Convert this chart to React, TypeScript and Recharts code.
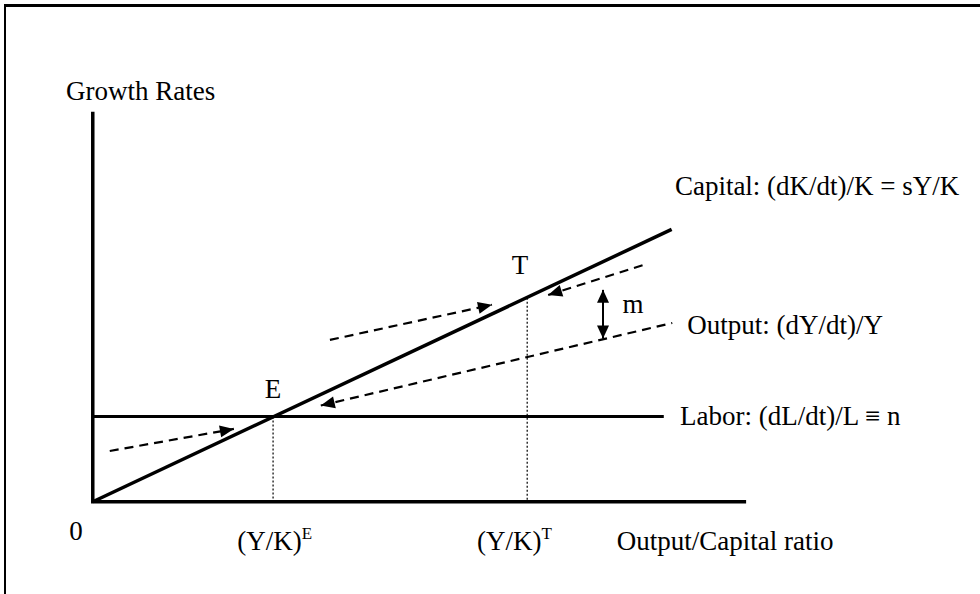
import React from 'react';
import { ComposedChart, Line, XAxis, YAxis, Scatter } from 'recharts';

const W = 980;
const H = 594;
const X_DOMAIN: [number, number] = [-1.42, 13.58];
const Y_DOMAIN: [number, number] = [-1.42, 7.72];
const SX = W / (X_DOMAIN[1] - X_DOMAIN[0]);
const SY = H / (Y_DOMAIN[1] - Y_DOMAIN[0]);

// axes (growth rate vs output/capital ratio)
const axesPath = [
  { x: 0, y: 6 },
  { x: 0, y: 0 },
  { x: 10, y: 0 },
];
const capital = [
  { x: 0, y: 0 },
  { x: 8.86, y: 4.19 },
];
const labor = [
  { x: 0, y: 1.31 },
  { x: 8.74, y: 1.31 },
];
const dropE = [
  { x: 2.76, y: 1.31 },
  { x: 2.76, y: 0 },
];
const dropT = [
  { x: 6.65, y: 3.14 },
  { x: 6.65, y: 0 },
];
const outputPath = [
  { x: 3.49, y: 1.48 },
  { x: 8.87, y: 2.75 },
];
const upperRight = [
  { x: 6.97, y: 3.18 },
  { x: 8.45, y: 3.65 },
];
const upperLeft = [
  { x: 3.63, y: 2.49 },
  { x: 6.11, y: 3.03 },
];
const lowerLeft = [
  { x: 0.26, y: 0.78 },
  { x: 2.16, y: 1.12 },
];
const gapM = [
  { x: 7.81, y: 2.51 },
  { x: 7.81, y: 3.26 },
];

type Lbl = { x: number; y: number; text: string; sup?: string; anchor?: string; size?: number };
const labels: Lbl[] = [
  { x: -0.41, y: 6.18, text: 'Growth Rates' },
  { x: 8.91, y: 4.72, text: 'Capital: (dK/dt)/K = sY/K' },
  { x: 9.1, y: 2.58, text: 'Output: (dY/dt)/Y' },
  { x: 8.99, y: 1.18, text: 'Labor: (dL/dt)/L ≡ n' },
  { x: -0.36, y: -0.59, text: '0' },
  { x: 2.21, y: -0.74, text: '(Y/K)', sup: 'E' },
  { x: 5.88, y: -0.74, text: '(Y/K)', sup: 'T' },
  { x: 8.02, y: -0.74, text: 'Output/Capital ratio' },
  { x: 2.76, y: 1.6, text: 'E', anchor: 'middle' },
  { x: 6.54, y: 3.5, text: 'T', anchor: 'middle' },
  { x: 8.27, y: 2.9, text: 'm', anchor: 'middle' },
];

const FONT = "'Liberation Serif', 'Times New Roman', serif";
const FS = 27;

const makeArrowDot = (data: { x: number; y: number }[], tips: number[], len = 14, half = 6) =>
  (props: any) => {
    const { cx, cy, index } = props;
    if (!tips.includes(index) || cx == null || cy == null) return <g key={`d${index}`} />;
    const p = data[index];
    const o = data[index === 0 ? 1 : index - 1];
    let dx = (p.x - o.x) * SX;
    let dy = -(p.y - o.y) * SY;
    const l = Math.hypot(dx, dy) || 1;
    dx /= l;
    dy /= l;
    const bx = cx - dx * len;
    const by = cy - dy * len;
    const pts = `${cx},${cy} ${bx - dy * half},${by + dx * half} ${bx + dy * half},${by - dx * half}`;
    return <polygon key={`d${index}`} points={pts} fill="#000" stroke="none" />;
  };

const LabelShape = (props: any) => {
  const { cx, cy, payload } = props;
  const d: Lbl = payload;
  return (
    <text
      x={cx}
      y={cy}
      fontFamily={FONT}
      fontSize={d.size ?? FS}
      fill="#000"
      textAnchor={(d.anchor as any) ?? 'start'}
    >
      {d.text}
      {d.sup ? (
        <tspan dy={-11} fontSize={17}>
          {d.sup}
        </tspan>
      ) : null}
    </text>
  );
};

export default function App() {
  return (
    <div style={{ position: 'relative', width: W, height: H, background: '#fff' }}>
      <style>{'body{margin:0;}'}</style>
      <div
        style={{
          position: 'absolute',
          left: 4,
          top: 4,
          right: 0,
          bottom: 0,
          borderTop: '3px solid #000',
          borderLeft: '2.5px solid #000',
        }}
      />
      <div style={{ position: 'absolute', left: 0, top: 0 }}>
        <ComposedChart width={W} height={H} margin={{ top: 0, right: 0, bottom: 0, left: 0 }}>
          <XAxis type="number" dataKey="x" domain={X_DOMAIN} allowDataOverflow hide />
          <YAxis type="number" dataKey="y" domain={Y_DOMAIN} allowDataOverflow hide />
          <Line data={dropE} dataKey="y" type="linear" stroke="#333" strokeWidth={1.5} strokeDasharray="2 2" dot={false} activeDot={false} isAnimationActive={false} />
          <Line data={dropT} dataKey="y" type="linear" stroke="#333" strokeWidth={1.5} strokeDasharray="2 2" dot={false} activeDot={false} isAnimationActive={false} />
          <Line data={axesPath} dataKey="y" type="linear" stroke="#000" strokeWidth={3.5} strokeLinejoin="miter" dot={false} activeDot={false} isAnimationActive={false} />
          <Line data={labor} dataKey="y" type="linear" stroke="#000" strokeWidth={3} dot={false} activeDot={false} isAnimationActive={false} />
          <Line data={capital} dataKey="y" type="linear" stroke="#000" strokeWidth={3.5} dot={false} activeDot={false} isAnimationActive={false} />
          <Line data={outputPath} dataKey="y" type="linear" stroke="#000" strokeWidth={2.2} strokeDasharray="9 6" dot={makeArrowDot(outputPath, [0])} activeDot={false} isAnimationActive={false} />
          <Line data={upperRight} dataKey="y" type="linear" stroke="#000" strokeWidth={2.2} strokeDasharray="9 6" dot={makeArrowDot(upperRight, [0])} activeDot={false} isAnimationActive={false} />
          <Line data={upperLeft} dataKey="y" type="linear" stroke="#000" strokeWidth={2.2} strokeDasharray="9 6" dot={makeArrowDot(upperLeft, [1])} activeDot={false} isAnimationActive={false} />
          <Line data={lowerLeft} dataKey="y" type="linear" stroke="#000" strokeWidth={2.2} strokeDasharray="9 6" dot={makeArrowDot(lowerLeft, [1])} activeDot={false} isAnimationActive={false} />
          <Line data={gapM} dataKey="y" type="linear" stroke="#000" strokeWidth={2} dot={makeArrowDot(gapM, [0, 1], 13, 6)} activeDot={false} isAnimationActive={false} />
          <Scatter data={labels} shape={LabelShape} isAnimationActive={false} />
        </ComposedChart>
      </div>
    </div>
  );
}
